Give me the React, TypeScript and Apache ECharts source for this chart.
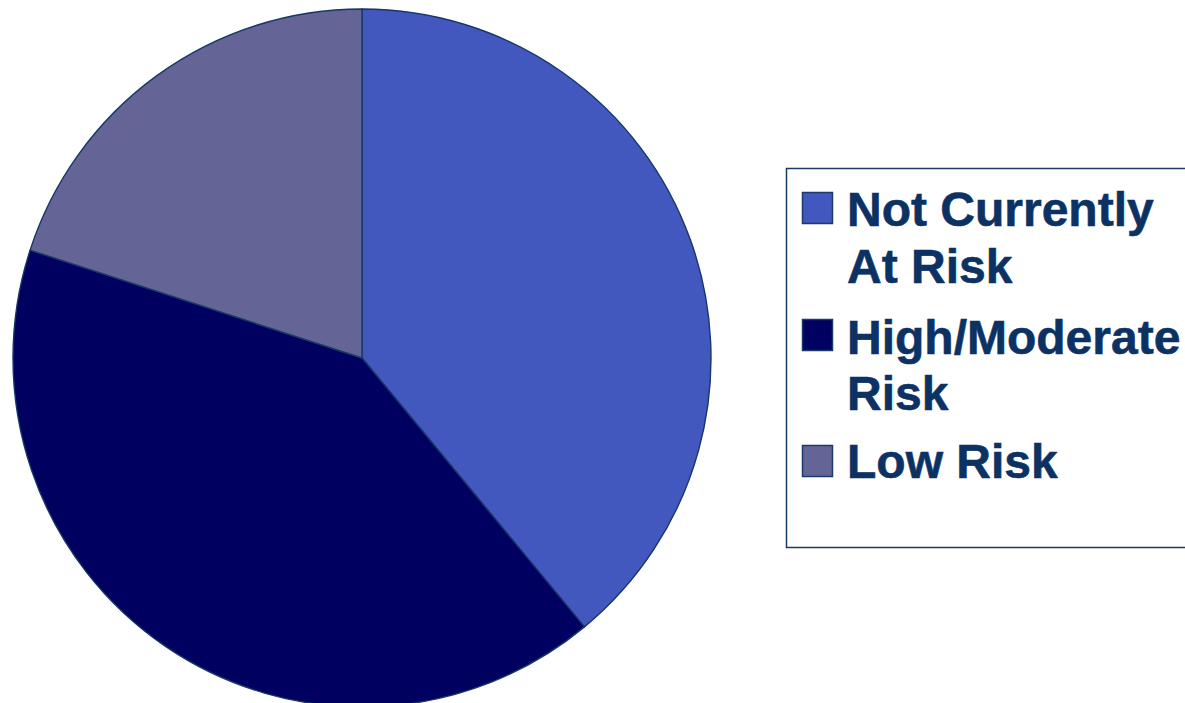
import React, { useEffect, useRef } from "react";
import * as echarts from "echarts";

const categories = ["Not Currently At Risk", "High/Moderate Risk", "Low Risk"];
const legendLines = [["Not Currently", "At Risk"], ["High/Moderate", "Risk"], ["Low Risk"]];
const values = [39, 41, 20];
const colors = ["#4358be", "#000060", "#646496"];

export default function App() {
  const ref = useRef<HTMLDivElement>(null);
  useEffect(() => {
    const chart = echarts.init(ref.current!, undefined, { renderer: "svg" });
    const textColor = "#0c3264";
    const iconTops = [192, 319, 445];
    const lineCenters = [[209, 266], [337, 393], [461]];
    const graphics: any[] = [
      {
        type: "rect",
        shape: { x: 786.5, y: 168.5, width: 420, height: 379 },
        style: { fill: "#ffffff", stroke: "#1a3a6a", lineWidth: 1.5 },
        z: 1,
      },
    ];
    categories.forEach((c, i) => {
      graphics.push({
        type: "rect",
        shape: { x: 802.5, y: iconTops[i] + 0.5, width: 30, height: 31 },
        style: { fill: colors[i], stroke: "#1a3a6a", lineWidth: 1.5 },
        z: 2,
      });
      legendLines[i].forEach((t, j) => {
        graphics.push({
          type: "text",
          x: 847,
          y: lineCenters[i][j],
          style: {
            text: t,
            fill: textColor,
            stroke: textColor,
            lineWidth: 0.6,
            font: "bold 48px 'Liberation Sans', Arial, sans-serif",
            verticalAlign: "middle",
            align: "left",
          },
          z: 2,
        });
      });
    });
    chart.setOption({
      animation: false,
      backgroundColor: "#ffffff",
      graphic: graphics,
      series: [
        {
          type: "pie",
          center: [362, 358],
          radius: 349,
          startAngle: 90,
          clockwise: true,
          label: { show: false },
          labelLine: { show: false },
          emphasis: { disabled: true },
          itemStyle: { borderColor: "#173766", borderWidth: 1.4 },
          data: categories.map((name, i) => ({
            name,
            value: values[i],
            itemStyle: { color: colors[i] },
          })),
        },
      ],
    });
    return () => chart.dispose();
  }, []);
  return (
    <div
      ref={ref}
      style={{ position: "fixed", left: 0, top: 0, width: 1185, height: 703 }}
    />
  );
}
